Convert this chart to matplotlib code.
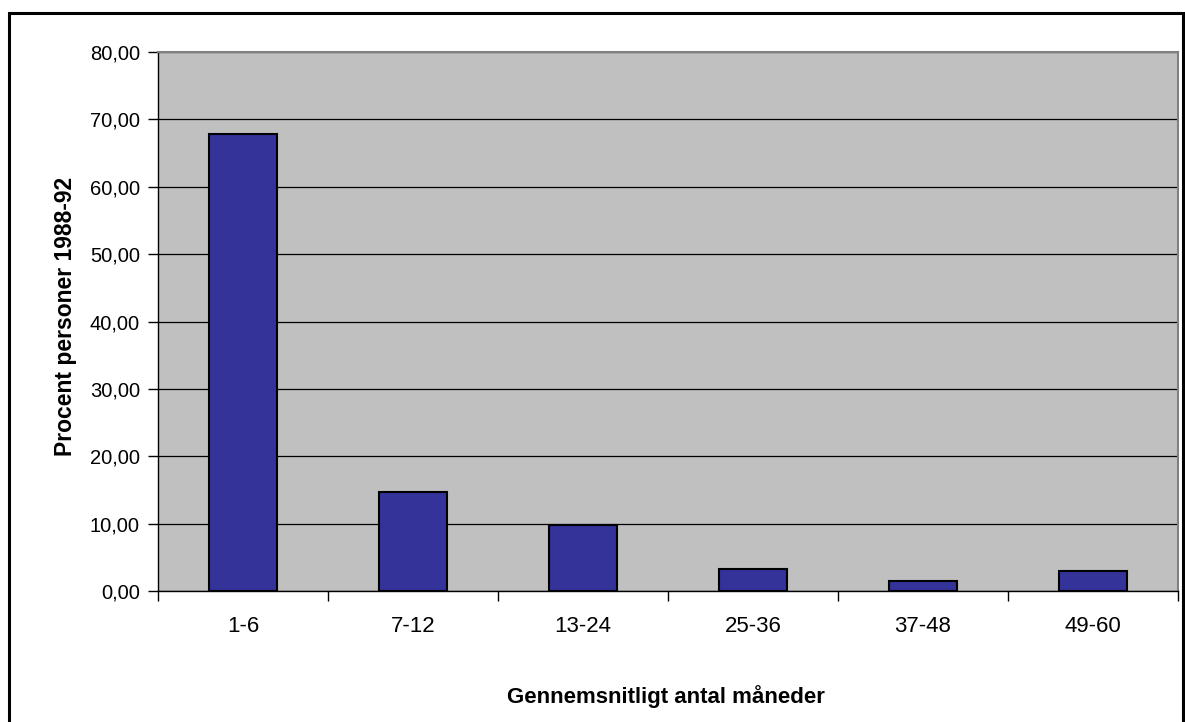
import matplotlib.pyplot as plt
import matplotlib.patches as patches
import numpy as np

categories = ['1-6', '7-12', '13-24', '25-36', '37-48', '49-60']
values = [67.8, 14.7, 9.75, 3.2, 1.45, 2.9]
yticks = [0, 10, 20, 30, 40, 50, 60, 70, 80]

plt.rcParams['font.family'] = ['Liberation Sans', 'DejaVu Sans']

W, H = 1185, 722
fig = plt.figure(figsize=(W / 100, H / 100), dpi=100)

# outer chart frame
fig.patches.append(patches.Rectangle((8.5 / W, -0.05), (1183 - 8.5) / W, (H - 12.5) / H + 0.05,
                                     transform=fig.transFigure, fill=False,
                                     edgecolor='black', linewidth=2.2))

ax = fig.add_axes([158 / W, (H - 591) / H, (1178 - 158) / W, (591 - 52) / H])
ax.set_facecolor('#C0C0C0')

x = np.arange(len(categories))
ax.bar(x, values, width=0.4, color='#333399', edgecolor='black', linewidth=1.5, zorder=3)

ax.set_xlim(-0.5, len(categories) - 0.5)
ax.set_ylim(0, 80)
ax.set_yticks(yticks)
ax.set_yticklabels([f'{v:.2f}'.replace('.', ',') for v in yticks], fontsize=14.5)
ax.yaxis.grid(True, color='black', linewidth=0.9, zorder=1)
ax.set_axisbelow(True)

# x ticks at the category boundaries, labels centred under the bars
ax.set_xticks(np.arange(-0.5, len(categories), 1.0))
ax.set_xticklabels([])
ax.set_xticks(x, minor=True)
ax.set_xticklabels(categories, minor=True, fontsize=16)
ax.tick_params(axis='x', which='minor', length=0, pad=18)
ax.tick_params(axis='x', which='major', length=7, width=1, direction='out')
ax.tick_params(axis='y', length=7, width=1, direction='out', pad=6)

for side in ['top', 'right']:
    ax.spines[side].set_color('#808080')
    ax.spines[side].set_linewidth(1.5)
for side in ['left', 'bottom']:
    ax.spines[side].set_color('black')
    ax.spines[side].set_linewidth(1)

fig.text(666 / W, 1 - 697 / H, 'Gennemsnitligt antal måneder', ha='center', va='center',
         fontsize=16, fontweight='bold')
fig.text(66 / W, 1 - 316 / H, 'Procent personer 1988-92', ha='center', va='center',
         rotation=90, fontsize=16.5, fontweight='bold')

plt.savefig('out.png', dpi=100)
